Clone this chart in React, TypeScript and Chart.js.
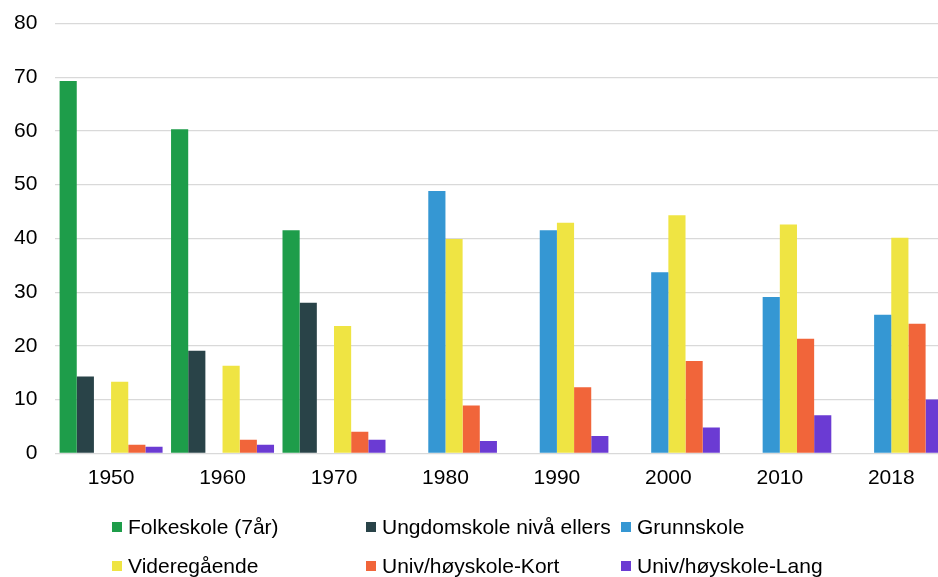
import React, { useEffect, useRef } from "react";
import { Chart, registerables } from "chart.js";

Chart.register(...registerables);

const categories = ["1950", "1960", "1970", "1980", "1990", "2000", "2010", "2018"];
const seriesNames = [
  "Folkeskole (7år)",
  "Ungdomskole nivå ellers",
  "Grunnskole",
  "Videregående",
  "Univ/høyskole-Kort",
  "Univ/høyskole-Lang",
];
const seriesColors = ["#1E9D4A", "#294348", "#3597D3", "#EFE443", "#F1653A", "#6B3BD3"];

const folkeskole = [69.3, 60.3, 41.5, null, null, null, null, null];
const ungdomskole = [14.3, 19.1, 28.0, null, null, null, null, null];
const grunnskole = [null, null, null, 48.8, 41.5, 33.7, 29.1, 25.8];
const videregaende = [13.3, 16.3, 23.7, 39.9, 42.9, 44.3, 42.6, 40.1];
const univKort = [1.6, 2.5, 4.0, 8.9, 12.3, 17.2, 21.3, 24.1];
const univLang = [1.2, 1.6, 2.5, 2.3, 3.2, 4.8, 7.1, 10.0];
const seriesValues = [folkeskole, ungdomskole, grunnskole, videregaende, univKort, univLang];

const yTicks = [0, 10, 20, 30, 40, 50, 60, 70, 80];

const FONT = "'Liberation Sans', Arial, sans-serif";

export default function App() {
  const canvasRef = useRef<HTMLCanvasElement | null>(null);

  useEffect(() => {
    const prevOverflow = document.body.style.overflow;
    document.body.style.overflow = "hidden";
    const ctx = canvasRef.current;
    if (!ctx) return;
    const chart = new Chart(ctx, {
      type: "bar",
      data: {
        labels: categories,
        datasets: seriesNames.map((name, i) => ({
          label: name,
          data: seriesValues[i] as (number | null)[],
          backgroundColor: seriesColors[i],
          borderWidth: 0,
          barPercentage: 1,
          categoryPercentage: 0.924,
        })),
      },
      options: {
        animation: false,
        responsive: false,
        maintainAspectRatio: false,
        layout: { padding: { top: 23.5, left: -4, right: 0, bottom: 74.5 } },
        plugins: {
          legend: { display: false },
          tooltip: { enabled: false },
        },
        scales: {
          x: {
            grid: { display: false, drawTicks: false },
            border: { display: false },
            ticks: {
              color: "#000",
              padding: 12,
              font: { family: FONT, size: 21 },
              maxRotation: 0,
            },
          },
          y: {
            min: 0,
            max: 80,
            afterBuildTicks: (axis: any) => {
              axis.ticks = yTicks.map((v) => ({ value: v }));
            },
            grid: { color: "#D9D9D9", lineWidth: 1.2, drawTicks: false },
            border: { display: false },
            ticks: {
              color: "#000",
              padding: 18,
              font: { family: FONT, size: 21, lineHeight: 0.5 },
            },
          },
        },
      },
    });
    return () => {
      chart.destroy();
      document.body.style.overflow = prevOverflow;
    };
  }, []);

  return (
    <div
      style={{
        position: "fixed",
        left: 0,
        top: 0,
        width: 938,
        height: 577,
        overflow: "hidden",
        background: "#fff",
      }}
    >
      <canvas
        ref={canvasRef}
        width={947}
        height={577}
        style={{ position: "absolute", left: 0, top: 0, width: 947, height: 577 }}
      />
      {seriesNames.map((name, i) => {
        const col = i % 3;
        const row = Math.floor(i / 3);
        const left = [112, 366, 621][col];
        const centerY = [527, 565.5][row];
        return (
          <div
            key={name}
            style={{
              position: "absolute",
              left,
              top: centerY - 12,
              height: 24,
              display: "flex",
              alignItems: "center",
              fontFamily: FONT,
              fontSize: 21,
              color: "#000",
              whiteSpace: "nowrap",
            }}
          >
            <span
              style={{
                display: "inline-block",
                width: 10,
                height: 10,
                background: seriesColors[i],
                marginRight: 6,
              }}
            />
            <span>{name}</span>
          </div>
        );
      })}
    </div>
  );
}
